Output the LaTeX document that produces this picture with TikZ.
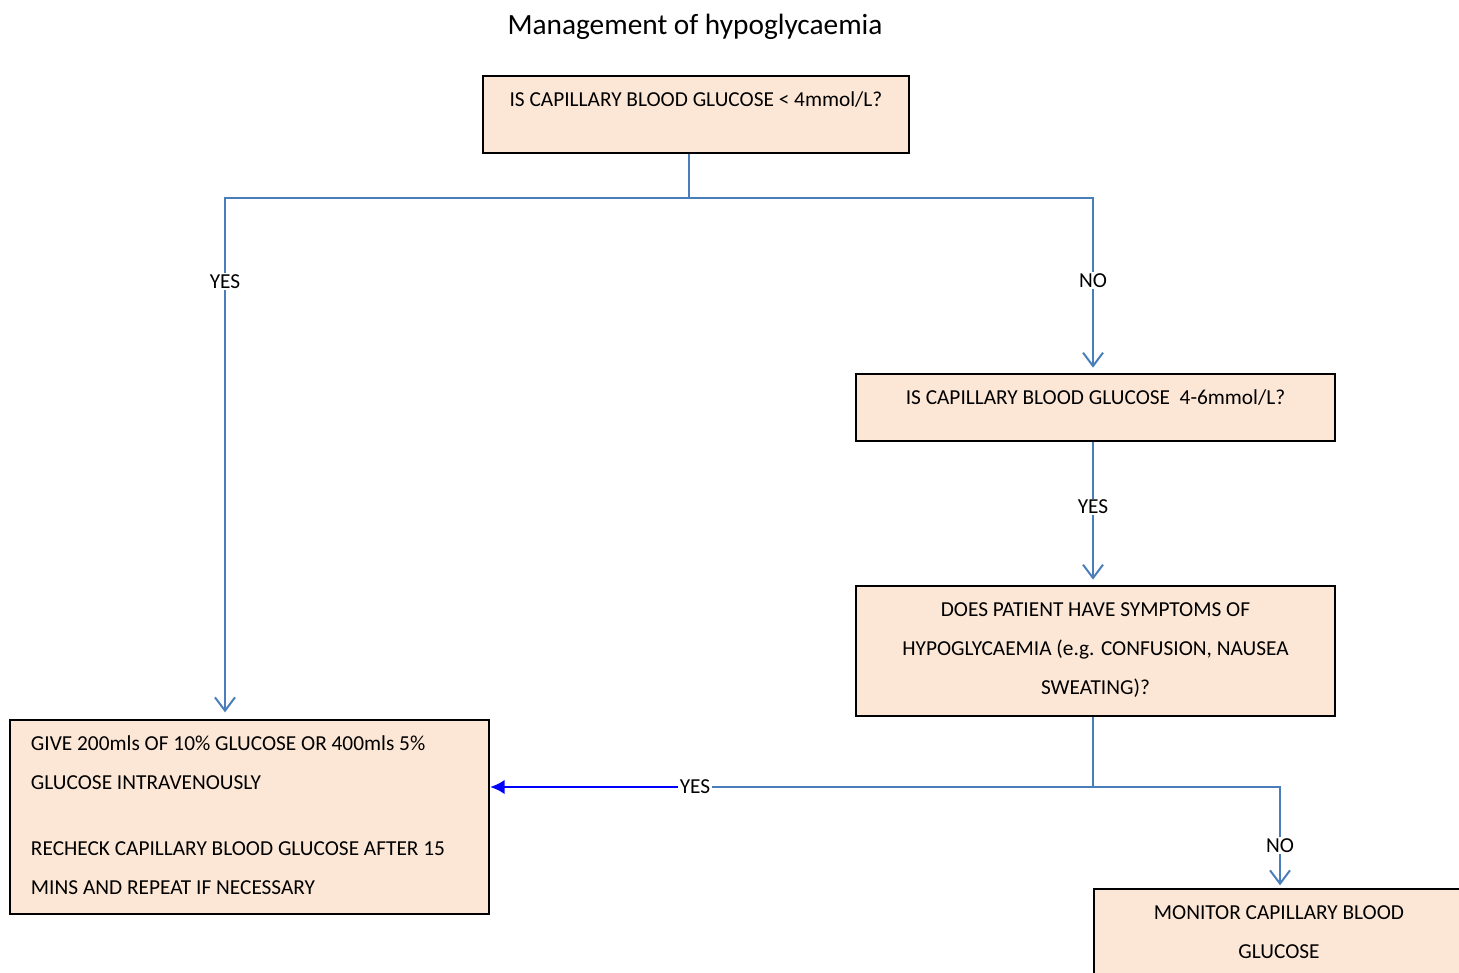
\documentclass[tikz,border=0pt]{standalone}
\usepackage{fontspec}
\setmainfont{Carlito}
\usetikzlibrary{arrows.meta}
\newlength\px \setlength\px{0.75pt}
\definecolor{linkblue}{RGB}{74,126,187}
\definecolor{boxfill}{RGB}{252,231,215}
% width, height (in px), text
\newcommand{\boxtext}[3]{\parbox[t][#2\px][t]{#1\px}{\fontsize{16pt}{39\px}\selectfont\rule{0pt}{30\px}#3}}
\tikzset{
  box/.style={draw, line width=1.5pt, fill=boxfill, inner sep=0pt, anchor=north west},
  link/.style={draw=linkblue, line width=1.5pt},
  barb/.style={-{Straight Barb[length=10pt,width=15pt]}},
  tag/.style={fill=white, inner sep=1pt, font=\fontsize{16pt}{19pt}\selectfont}
}
\begin{document}
\begin{tikzpicture}[x=0.75pt, y=-0.75pt]
\useasboundingbox (0,0) rectangle (1459,972);
\clip (0,0) rectangle (1459,972);
\node[font=\fontsize{22pt}{26pt}\selectfont] (title) at (695,27) {Management of hypoglycaemia};
% boxes
\node[box] (below4) at (482,75) {\boxtext{426}{77}{\centering IS CAPILLARY BLOOD GLUCOSE < 4mmol/L?}};
\node[box] (range) at (855,373) {\boxtext{479}{67}{\centering IS CAPILLARY BLOOD GLUCOSE \ 4-6mmol/L?}};
\node[box] (symptoms) at (855,585) {\boxtext{479}{130}{\centering DOES PATIENT HAVE SYMPTOMS OF\\
  HYPOGLYCAEMIA (e.g. CONFUSION, NAUSEA\\ SWEATING)?}};
\node[box] (give) at (9,719) {\boxtext{479}{194}{\raggedright\leftskip=21\px
  GIVE 200mls OF 10\% GLUCOSE OR 400mls 5\%\\ GLUCOSE INTRAVENOUSLY\\[27\px]
  RECHECK CAPILLARY BLOOD GLUCOSE AFTER 15\\ MINS AND REPEAT IF NECESSARY}};
\node[box] (monitor) at (1093,888) {\boxtext{370}{110}{\centering MONITOR CAPILLARY BLOOD\\ GLUCOSE}};
% connectors
\coordinate (split1) at (689,198);
\coordinate (leftturn) at (225,198);
\coordinate (rightturn) at (1093,198);
\coordinate (split2) at (1093,787);
\coordinate (downturn) at (1280,787);
\draw[link] (below4.south -| split1) -- (split1);
\draw[link, barb, shorten >=5pt] (split1) -- (leftturn) -- node[tag, pos=0.16] (yes1) {YES} (give.north -| leftturn);
\draw[link, barb, shorten >=4pt] (split1) -- (rightturn) -- node[tag, pos=0.47] (no1) {NO} (range.north -| rightturn);
\draw[link, barb, shorten >=4pt] (range.south -| rightturn) -- node[tag, pos=0.455] (yes2) {YES} (symptoms.north -| rightturn);
\draw[link] (symptoms.south -| split2) -- (split2);
\draw[link, barb, shorten >=2pt] (split2) -- (downturn) -- node[tag, pos=0.58] (no2) {NO} (monitor.north -| downturn);
\node[tag] (yes3) at (695,787) {YES};
\draw[link] (split2) -- (yes3);
\draw[blue, line width=2.2pt, -{Latex[length=11pt,width=11pt]}] (yes3) -- (give.east |- yes3);
\end{tikzpicture}
\end{document}
